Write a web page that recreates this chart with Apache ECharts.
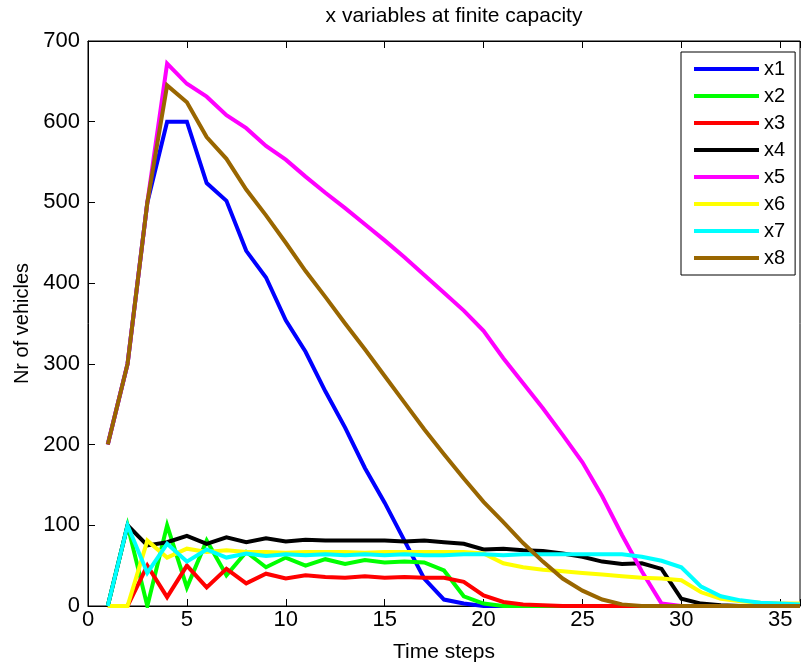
<!DOCTYPE html>
<html>
<head>
<meta charset="utf-8">
<script src="https://cdn.jsdelivr.net/npm/echarts@6/dist/echarts.min.js"></script>
<style>
html,body{margin:0;padding:0;background:#fff;}
#chart{width:803px;height:668px;}
</style>
</head>
<body>
<div id="chart"></div>
<script>
const timeSteps = Array.from({length: 36}, (_, i) => i + 1);
const seriesNames = ['x1','x2','x3','x4','x5','x6','x7','x8'];
const seriesColors = ['#0000ff','#00ff00','#ff0000','#000000','#ff00ff','#ffff00','#00ffff','#996600'];

const x1 = [200,300,500,600,600,524,502,440,407,354,315,266,221,171,128,81,34,8,3,0,0,0,0,0,0,0,0,0,0,0,0,0,0,0,0,0];
const x2 = [0,100,0,100,23,81,38,67,48,60,50,58,52,57,54,55,54,44,12,3,0,0,0,0,0,0,0,0,0,0,0,0,0,0,0,0];
const x3 = [0,0,50,11,50,23,46,28,40,34,38,36,35,37,35,36,35,35,30,13,5,2,1,0,0,0,0,0,0,0,0,0,0,0,0,0];
const x4 = [0,100,75,79,87,77,85,79,84,80,82,81,81,81,81,80,81,79,77,70,71,69,68,65,61,55,52,53,46,9,3,1,0,0,0,0];
const x5 = [200,300,500,672,647,631,608,592,570,553,532,512,493,473,453,432,410,388,366,341,307,276,245,212,178,136,88,43,3,0,0,0,0,0,0,0];
const x6 = [0,0,81,60,71,67,69,67,67,66,67,67,67,66,67,67,67,67,67,65,53,48,45,43,41,39,37,35,34,32,17,9,6,4,3,3];
const x7 = [0,100,41,77,55,70,60,65,62,64,63,64,63,64,63,64,63,63,64,64,63,64,64,64,64,64,64,61,56,48,24,12,7,4,3,2];
const x8 = [200,300,500,645,624,581,554,516,484,450,415,383,350,318,285,252,219,188,158,129,104,78,55,34,19,8,2,0,0,0,0,0,0,0,0,0];

const yTicks = [0,100,200,300,400,500,600,700];
const xTicks = [0,5,10,15,20,25,30,35];

const allData = [x1,x2,x3,x4,x5,x6,x7,x8];
const FONT = "'Liberation Sans', Arial, Helvetica, sans-serif";

const chart = echarts.init(document.getElementById('chart'), null, {renderer:'canvas'});
const series = seriesNames.map((n, i) => ({
  name: n,
  type: 'line',
  xAxisIndex: 0,
  yAxisIndex: 0,
  data: timeSteps.map((t, k) => [t, allData[i][k]]),
  showSymbol: false,
  symbol: 'none',
  smooth: false,
  lineStyle: {color: seriesColors[i], width: 4, join: 'miter'},
  itemStyle: {color: seriesColors[i]},
  animation: false
}));

chart.setOption({
  animation: false,
  backgroundColor: '#fff',
  textStyle: {fontFamily: FONT},
  title: {
    text: 'x variables at finite capacity',
    left: 449,
    top: 1,
    textAlign: 'center',
    textStyle: {fontSize: 21, fontWeight: 'normal', color: '#000', fontFamily: FONT}
  },
  grid: {
    left: 88, top: 41, width: 723, height: 568,
    show: true, borderColor: '#000', borderWidth: 1, backgroundColor: '#fff'
  },
  legend: {
    orient: 'vertical',
    left: 681, top: 52,
    padding: [7, 10, 7, 13],
    itemWidth: 65, itemHeight: 4, itemGap: 7,
    icon: 'rect',
    borderColor: '#000', borderWidth: 1, backgroundColor: '#fff',
    textStyle: {fontSize: 20, color: '#000', lineHeight: 20, fontFamily: FONT},
    data: seriesNames
  },
  xAxis: [{
    type: 'value', min: 0, max: 36, interval: 5, position: 'bottom',
    axisLine: {show: true, onZero: false, lineStyle: {color: '#000', width: 1}},
    axisTick: {show: true, inside: true, length: 7, lineStyle: {color: '#000'}},
    axisLabel: {color: '#000', fontSize: 22, margin: 3, fontFamily: FONT,
      formatter: v => xTicks.includes(v) ? String(v) : ''},
    splitLine: {show: false},
    name: 'Time steps', nameLocation: 'middle', nameGap: 36,
    nameTextStyle: {fontSize: 21, color: '#000', fontFamily: FONT}
  }, {
    type: 'value', min: 0, max: 36, interval: 5, position: 'top',
    axisLine: {show: true, onZero: false, lineStyle: {color: '#000', width: 1}},
    axisTick: {show: true, inside: true, length: 7, lineStyle: {color: '#000'}},
    axisLabel: {show: false},
    splitLine: {show: false}
  }],
  yAxis: [{
    type: 'value', min: 0, max: 700, interval: 100,
    axisLine: {show: true, onZero: false, lineStyle: {color: '#000', width: 1}},
    axisTick: {show: true, inside: true, length: 7, lineStyle: {color: '#000'}},
    axisLabel: {color: '#000', fontSize: 22, margin: 8, fontFamily: FONT,
      formatter: v => yTicks.includes(v) ? String(v) : ''},
    splitLine: {show: false},
    name: 'Nr of vehicles', nameLocation: 'middle', nameGap: 56,
    nameTextStyle: {fontSize: 20, color: '#000', fontFamily: FONT}
  }],
  series: series
});
</script>
</body>
</html>
